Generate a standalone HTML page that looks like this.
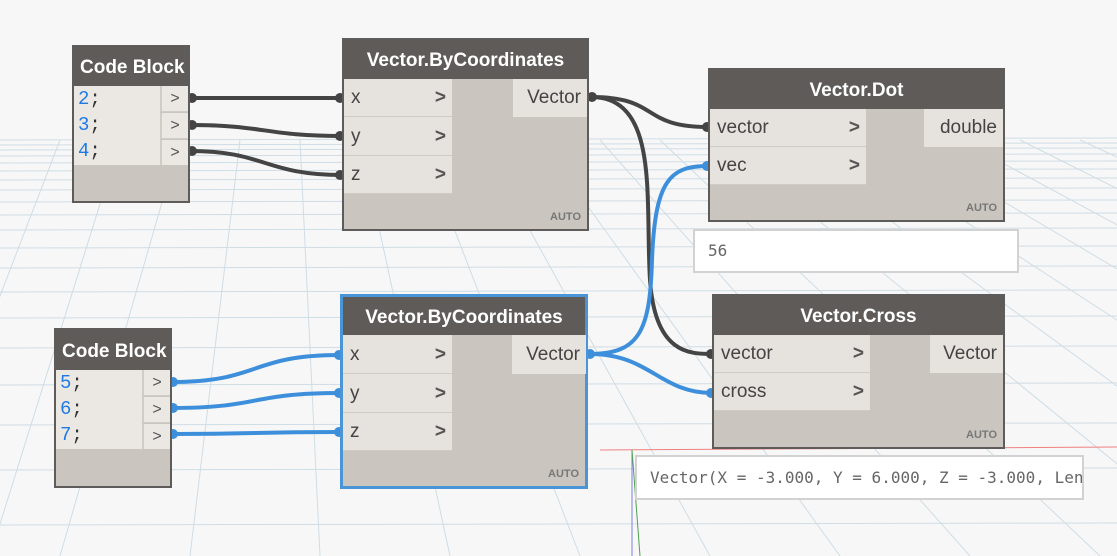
<!DOCTYPE html>
<html><head><meta charset="utf-8"><style>
*{margin:0;padding:0;box-sizing:border-box}
body{width:1117px;height:556px;overflow:hidden;background:#f7f7f7;position:relative;font-family:"Liberation Sans","DejaVu Sans",sans-serif}
.n{position:absolute;background:#cac6bf;border:2px solid #5e5c5a}
.h{position:absolute;left:0;right:0;top:0;background:#5e5b58;color:#fff;font-weight:bold;font-size:19px;text-align:center}
.r{position:absolute;background:#e6e3de;color:#444;font-size:19px;padding-left:7px;border-bottom:1px solid #cfcbc5}
.r b{position:absolute;right:6px;top:0;font-weight:bold;color:#555}
.o{position:absolute;background:#e6e3de;color:#444;font-size:19px;text-align:right;padding-right:6px}
.a{position:absolute;right:6px;bottom:6px;font-size:11px;font-weight:bold;color:#777}
.c{position:absolute;background:#ebe8e4;font-family:"Liberation Mono",monospace;font-size:19px;color:#1e7be6;padding-left:4px}
.c span{color:#333}
.p{position:absolute;background:#ebe8e4;color:#555;font-size:16px;text-align:center;border-left:2px solid #d0ccc6}
.w{position:absolute;background:#fff;border:2px solid #d2d2d2;font-family:"DejaVu Sans Mono","Liberation Mono",monospace;font-size:16px;color:#666;padding-left:13px;overflow:hidden;white-space:nowrap}
</style></head><body>
<svg width="1117" height="556" style="position:absolute;left:0;top:0">
<g stroke="#cfdde6" stroke-width="1" fill="none">
<line x1="0" y1="140" x2="1117" y2="138"/><line x1="0" y1="145" x2="1117" y2="143"/><line x1="0" y1="150" x2="1117" y2="148"/><line x1="0" y1="156" x2="1117" y2="154"/><line x1="0" y1="163" x2="1117" y2="161"/><line x1="0" y1="171" x2="1117" y2="169"/><line x1="0" y1="180" x2="1117" y2="178"/><line x1="0" y1="190" x2="1117" y2="188"/><line x1="0" y1="202" x2="1117" y2="200"/><line x1="0" y1="215" x2="1117" y2="213"/><line x1="0" y1="230" x2="1117" y2="228"/><line x1="0" y1="248" x2="1117" y2="246"/><line x1="0" y1="268" x2="1117" y2="266"/><line x1="0" y1="292" x2="1117" y2="290"/><line x1="0" y1="318" x2="1117" y2="316"/><line x1="0" y1="348" x2="1117" y2="346"/><line x1="0" y1="385" x2="1117" y2="383"/><line x1="0" y1="425" x2="1117" y2="423"/><line x1="0" y1="470" x2="1117" y2="468"/><line x1="0" y1="525" x2="1117" y2="523"/>
<line x1="0" y1="140" x2="-200" y2="556"/><line x1="60" y1="140" x2="-100" y2="556"/><line x1="120" y1="140" x2="-10" y2="556"/><line x1="180" y1="140" x2="60" y2="556"/><line x1="240" y1="140" x2="190" y2="556"/><line x1="300" y1="140" x2="320" y2="556"/><line x1="360" y1="140" x2="450" y2="556"/><line x1="420" y1="140" x2="580" y2="556"/><line x1="480" y1="140" x2="710" y2="556"/><line x1="540" y1="140" x2="840" y2="556"/><line x1="600" y1="140" x2="970" y2="556"/><line x1="660" y1="140" x2="1100" y2="556"/><line x1="720" y1="140" x2="1230" y2="556"/><line x1="780" y1="140" x2="1350" y2="556"/><line x1="840" y1="140" x2="1480" y2="556"/><line x1="900" y1="140" x2="1600" y2="556"/><line x1="960" y1="140" x2="1730" y2="556"/><line x1="1020" y1="140" x2="1850" y2="556"/><line x1="1080" y1="140" x2="1980" y2="556"/>
</g>
<line x1="600" y1="450" x2="1117" y2="447" stroke="#f08080"/>
<line x1="632" y1="450" x2="632" y2="556" stroke="#8080e0"/>
<line x1="632" y1="450" x2="640" y2="556" stroke="#50a050"/>
<g fill="none" stroke="#444" stroke-width="4">
<path d="M190 98 C260 98 270 98 342 98"/>
<path d="M190 125 C265 125 265 136 342 136"/>
<path d="M190 151 C265 151 265 175 342 175"/>
<path d="M591 97 C660 97 640 127 708 127"/>
<path d="M591 97 C660 97 645 200 650 280 C655 354 690 354 712 354"/>
</g>
<g fill="none" stroke="#3d8fdb" stroke-width="4">
<path d="M172 382 C260 382 250 355 340 355"/>
<path d="M172 408 C260 408 250 393 340 393"/>
<path d="M172 434 C260 434 250 432 340 432"/>
<path d="M590 354 C640 354 650 330 652 260 C655 180 670 166 708 166"/>
<path d="M590 354 C650 354 660 393 712 393"/>
</g>
<g fill="#444"><circle cx="192" cy="98" r="5"/><circle cx="192" cy="125" r="5"/><circle cx="192" cy="151" r="5"/><circle cx="340" cy="98" r="5"/><circle cx="340" cy="136" r="5"/><circle cx="340" cy="175" r="5"/><circle cx="592" cy="97" r="5"/><circle cx="707" cy="127" r="5"/><circle cx="711" cy="354" r="5"/></g>
<g fill="#3d8fdb"><circle cx="173" cy="382" r="5"/><circle cx="173" cy="408" r="5"/><circle cx="173" cy="434" r="5"/><circle cx="339" cy="355" r="5"/><circle cx="339" cy="393" r="5"/><circle cx="339" cy="432" r="5"/><circle cx="590" cy="354" r="5"/><circle cx="707" cy="166" r="5"/><circle cx="711" cy="393" r="5"/></g>
</svg>

<div class="n" style="left:72px;top:45px;width:118px;height:158px">
<div class="h" style="height:39px;line-height:41px;text-align:left;padding-left:6px">Code Block</div>
<div class="c" style="left:0;top:39px;width:86px;height:79px;line-height:26px">2<span>;</span><br>3<span>;</span><br>4<span>;</span></div>
<div class="p" style="left:86px;top:39px;width:28px;height:26px;line-height:26px;border-bottom:1px solid #d0ccc6">&gt;</div>
<div class="p" style="left:86px;top:66px;width:28px;height:26px;line-height:26px;border-bottom:1px solid #d0ccc6">&gt;</div>
<div class="p" style="left:86px;top:93px;width:28px;height:25px;line-height:25px">&gt;</div>
</div>

<div class="n" style="left:342px;top:38px;width:247px;height:193px">
<div class="h" style="height:39px;line-height:42px">Vector.ByCoordinates</div>
<div class="r" style="left:0;top:39px;width:108px;height:38px;line-height:38px">x<b>&gt;</b></div>
<div class="r" style="left:0;top:77px;width:108px;height:39px;line-height:39px">y<b>&gt;</b></div>
<div class="r" style="left:0;top:116px;width:108px;height:38px;line-height:38px">z<b>&gt;</b></div>
<div class="o" style="left:169px;top:39px;width:74px;height:38px;line-height:38px">Vector</div>
<div class="a">AUTO</div>
</div>

<div class="n" style="left:708px;top:68px;width:297px;height:154px">
<div class="h" style="height:39px;line-height:42px">Vector.Dot</div>
<div class="r" style="left:0;top:39px;width:156px;height:38px;line-height:38px">vector<b>&gt;</b></div>
<div class="r" style="left:0;top:77px;width:156px;height:38px;line-height:38px">vec<b>&gt;</b></div>
<div class="o" style="left:214px;top:39px;width:79px;height:38px;line-height:38px">double</div>
<div class="a">AUTO</div>
</div>
<div class="w" style="left:693px;top:229px;width:326px;height:44px;line-height:40px">56</div>

<div class="n" style="left:54px;top:328px;width:118px;height:160px">
<div class="h" style="height:40px;line-height:44px;text-align:left;padding-left:6px">Code Block</div>
<div class="c" style="left:0;top:40px;width:86px;height:79px;line-height:26px">5<span>;</span><br>6<span>;</span><br>7<span>;</span></div>
<div class="p" style="left:86px;top:40px;width:28px;height:26px;line-height:26px;border-bottom:1px solid #d0ccc6">&gt;</div>
<div class="p" style="left:86px;top:67px;width:28px;height:26px;line-height:26px;border-bottom:1px solid #d0ccc6">&gt;</div>
<div class="p" style="left:86px;top:94px;width:28px;height:25px;line-height:25px">&gt;</div>
</div>

<div class="n" style="left:340px;top:294px;width:248px;height:195px;border:3px solid #4a94d8">
<div class="h" style="height:38px;line-height:42px">Vector.ByCoordinates</div>
<div class="r" style="left:0;top:38px;width:109px;height:39px;line-height:39px">x<b>&gt;</b></div>
<div class="r" style="left:0;top:77px;width:109px;height:39px;line-height:39px">y<b>&gt;</b></div>
<div class="r" style="left:0;top:116px;width:109px;height:38px;line-height:38px">z<b>&gt;</b></div>
<div class="o" style="left:169px;top:38px;width:74px;height:39px;line-height:39px">Vector</div>
<div class="a">AUTO</div>
</div>

<div class="n" style="left:712px;top:294px;width:293px;height:155px">
<div class="h" style="height:39px;line-height:42px">Vector.Cross</div>
<div class="r" style="left:0;top:39px;width:156px;height:38px;line-height:38px">vector<b>&gt;</b></div>
<div class="r" style="left:0;top:77px;width:156px;height:38px;line-height:38px">cross<b>&gt;</b></div>
<div class="o" style="left:216px;top:39px;width:73px;height:38px;line-height:38px">Vector</div>
<div class="a">AUTO</div>
</div>
<div class="w" style="left:635px;top:455px;width:449px;height:45px;line-height:41px">Vector(X = -3.000, Y = 6.000, Z = -3.000, Length = 7.348)</div>
</body></html>
